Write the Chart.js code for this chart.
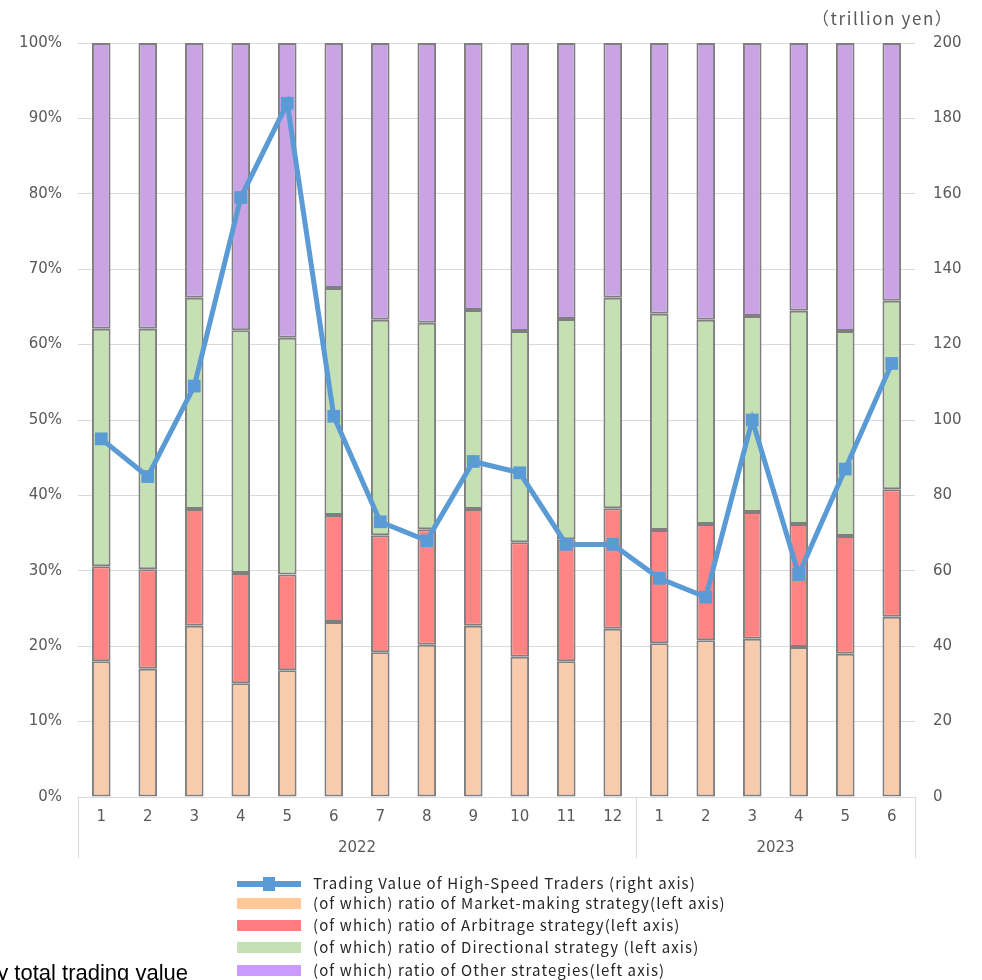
<!DOCTYPE html>
<html>
<head>
<meta charset="utf-8">
<script src="https://cdn.jsdelivr.net/npm/chart.js@4.4.1/dist/chart.umd.min.js"></script>
<style>
  html, body { margin: 0; padding: 0; background: #fff; }
  #wrap { position: relative; width: 982px; height: 980px; overflow: hidden; }
  #c { position: absolute; left: 0; top: 0; }
  .unit { position: absolute; left: 812px; top: 5px; font: 17px "Noto Sans CJK JP", sans-serif; letter-spacing: 1.6px; color: #595959; white-space: nowrap; }
  .legend { position: absolute; left: 237px; top: 0; }
  .row { position: absolute; left: 0; white-space: nowrap; }
  .sw { position: absolute; left: 0; width: 64px; }
  .lt { position: absolute; left: 76px; font: 15px "Noto Sans CJK JP", sans-serif; letter-spacing: 1.1px; color: #262626; line-height: 20px; white-space: nowrap; }
  .note { position: absolute; left: -15px; top: 962px; font: 22px "Liberation Sans", Arial, sans-serif; color: #000; line-height: 22px; white-space: nowrap; }
</style>
</head>
<body>
<div id="wrap">
  <canvas id="c" width="982" height="980"></canvas>
  <div class="unit">（trillion yen）</div>
  <div class="legend" id="legend"></div>
  <div class="note">by total trading value</div>
</div>
<script>
const months = ['1','2','3','4','5','6','7','8','9','10','11','12','1','2','3','4','5','6'];
const years = ['2022','2022','2022','2022','2022','2022','2022','2022','2022','2022','2022','2022','2023','2023','2023','2023','2023','2023'];
const marketMaking = [18.0,17.0,22.7,15.1,16.8,23.2,19.2,20.2,22.7,18.6,18.0,22.3,20.4,20.8,21.0,19.9,19.0,23.9];
const arbitrage = [12.6,13.2,15.5,14.6,12.7,14.2,15.5,15.3,15.5,15.2,16.2,16.0,15.0,15.4,16.8,16.3,15.6,16.9];
const directional = [31.5,31.9,28.0,32.2,31.4,30.1,28.6,27.4,26.4,28.0,29.2,27.9,28.7,27.1,26.0,28.3,27.2,25.0];
const other = [37.9,37.9,33.8,38.1,39.1,32.5,36.7,37.1,35.4,38.2,36.6,33.8,35.9,36.7,36.2,35.5,38.2,34.2];
const tradingValue = [95,85,109,159,184,101,73,68,89,86,67,67,58,53,100,59,87,115];
const leftTicks = [0,10,20,30,40,50,60,70,80,90,100];
const rightTicks = [0,20,40,60,80,100,120,140,160,180,200];

const legendItems = [
  {label: 'Trading Value of High-Speed Traders (right axis)', color: '#5B9BD5', type: 'line'},
  {label: '(of which) ratio of Market-making strategy(left axis)', color: '#FFC896', type: 'box'},
  {label: '(of which) ratio of Arbitrage strategy(left axis)', color: '#FF7C80', type: 'box'},
  {label: '(of which) ratio of Directional strategy (left axis)', color: '#C5E0B4', type: 'box'},
  {label: '(of which) ratio of Other strategies(left axis)', color: '#CC99FF', type: 'box'}
];
const legendY = [884, 904, 925.5, 948, 970.5];

// HTML legend
const lg = document.getElementById('legend');
legendItems.forEach((it, i) => {
  const row = document.createElement('div');
  row.className = 'row';
  row.style.top = (legendY[i]) + 'px';
  const sw = document.createElement('div');
  sw.className = 'sw';
  if (it.type === 'line') {
    sw.style.top = '-3px'; sw.style.height = '6px'; sw.style.background = it.color;
    const mk = document.createElement('div');
    mk.style.cssText = 'position:absolute;left:26px;top:-4px;width:12px;height:14px;background:' + it.color;
    sw.appendChild(mk);
  } else {
    sw.style.top = '-6px'; sw.style.height = '11px'; sw.style.background = it.color;
  }
  const t = document.createElement('div');
  t.className = 'lt';
  t.style.top = '-11px';
  t.textContent = it.label;
  row.appendChild(sw); row.appendChild(t);
  lg.appendChild(row);
});

const gridGray = '#d9d9d9';
const tickColor = '#595959';
const tickFont = {family: "'DejaVu Sans', sans-serif", size: 15};

const groupPlugin = {
  id: 'groups',
  afterDraw(chart) {
    const xs = chart.scales.x;
    const ctx = chart.ctx;
    const n = months.length;
    const step = (xs.getPixelForValue(1) - xs.getPixelForValue(0));
    const top = chart.chartArea.bottom;
    const bottom = 858;
    const bounds = [];
    bounds.push(xs.getPixelForValue(0) - step / 2);
    for (let i = 1; i < n; i++) if (years[i] !== years[i - 1]) bounds.push((xs.getPixelForValue(i - 1) + xs.getPixelForValue(i)) / 2);
    bounds.push(xs.getPixelForValue(n - 1) + step / 2);
    ctx.save();
    ctx.strokeStyle = gridGray;
    ctx.lineWidth = 1;
    bounds.forEach(b => {
      const x = Math.round(b) + 0.5;
      ctx.beginPath(); ctx.moveTo(x, top); ctx.lineTo(x, bottom); ctx.stroke();
    });
    ctx.fillStyle = tickColor;
    ctx.font = "15px 'DejaVu Sans', sans-serif";
    ctx.textAlign = 'center';
    ctx.textBaseline = 'middle';
    let start = 0;
    for (let i = 1; i <= n; i++) {
      if (i === n || years[i] !== years[start]) {
        const x0 = xs.getPixelForValue(start) - step / 2;
        const x1 = xs.getPixelForValue(i - 1) + step / 2;
        ctx.fillText(years[start], (x0 + x1) / 2, 848);
        start = i;
      }
    }
    ctx.restore();
  }
};

const barCommon = {
  type: 'bar', yAxisID: 'y', stack: 's', order: 2,
  borderColor: '#7f7f7f', borderWidth: 2, borderSkipped: false,
  barPercentage: 0.4, categoryPercentage: 1.0
};

new Chart(document.getElementById('c'), {
  data: {
    labels: months,
    datasets: [
      {type: 'line', label: legendItems[0].label, data: tradingValue, yAxisID: 'y1', order: 0,
       borderColor: '#5B9BD5', borderWidth: 5, backgroundColor: '#5B9BD5',
       pointStyle: 'rect', pointRadius: 9, pointBorderWidth: 0, pointBackgroundColor: '#5B9BD5', tension: 0, fill: false},
      Object.assign({}, barCommon, {label: legendItems[1].label, data: marketMaking, backgroundColor: '#F8CBAD'}),
      Object.assign({}, barCommon, {label: legendItems[2].label, data: arbitrage, backgroundColor: '#FF8585'}),
      Object.assign({}, barCommon, {label: legendItems[3].label, data: directional, backgroundColor: '#C5E0B3'}),
      Object.assign({}, barCommon, {label: legendItems[4].label, data: other, backgroundColor: '#C9A3E3'})
    ]
  },
  options: {
    responsive: false,
    animation: false,
    devicePixelRatio: 1,
    layout: {padding: {top: 43, left: 0, right: 0, bottom: 0}},
    plugins: {legend: {display: false}, tooltip: {enabled: false}},
    scales: {
      x: {
        stacked: true,
        grid: {display: false, drawTicks: false},
        border: {display: false},
        ticks: {color: tickColor, font: tickFont, padding: 11, maxRotation: 0, autoSkip: false},
        afterFit(s) { s.height = 183; }
      },
      y: {
        stacked: true, position: 'left', min: 0, max: 100,
        afterBuildTicks(s) { s.ticks = leftTicks.map(v => ({value: v})); },
        grid: {color: gridGray, lineWidth: 1, drawTicks: false},
        border: {display: false},
        ticks: {color: tickColor, font: tickFont, padding: 16, callback: v => v + '%'},
        afterFit(s) { s.width = 78; }
      },
      y1: {
        position: 'right', min: 0, max: 200,
        afterBuildTicks(s) { s.ticks = rightTicks.map(v => ({value: v})); },
        grid: {display: false, drawTicks: false},
        border: {display: false},
        ticks: {color: tickColor, font: tickFont, padding: 18},
        afterFit(s) { s.width = 67; }
      }
    }
  },
  plugins: [groupPlugin]
});
</script>
</body>
</html>
